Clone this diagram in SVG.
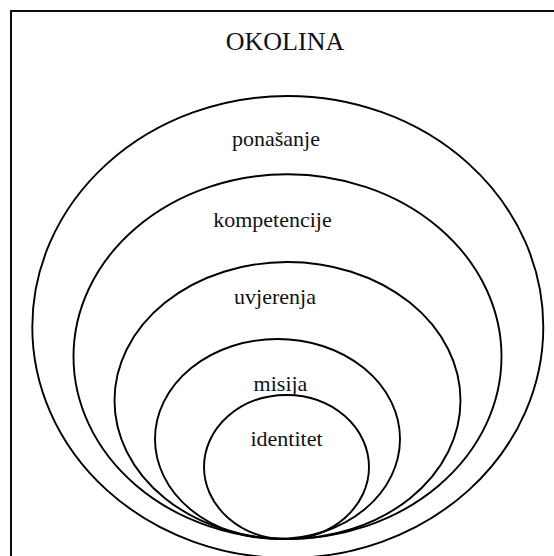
<svg xmlns="http://www.w3.org/2000/svg" width="554" height="556" viewBox="0 0 554 556">
<style>
.sh{fill:none;stroke:#000;stroke-width:1.9}
.t{font-family:"Liberation Serif","Times New Roman",serif;font-size:22px;fill:#111;text-anchor:middle}
</style>
<rect x="0" y="0" width="554" height="556" fill="#fff"/>
<g id="okolina">
<rect class="sh" x="11" y="11" width="620" height="620"/>
<text class="t" x="285" y="49.5" style="font-size:26px">OKOLINA</text>
</g>
<g id="ponasanje">
<ellipse class="sh" cx="287.8" cy="327" rx="255.5" ry="231"/>
<text class="t" x="276" y="146">ponašanje</text>
</g>
<g id="kompetencije">
<ellipse class="sh" cx="287.5" cy="356.6" rx="214" ry="182.3"/>
<text class="t" x="272.5" y="226.5">kompetencije</text>
</g>
<g id="uvjerenja">
<ellipse class="sh" cx="287.5" cy="400.5" rx="173" ry="138.5"/>
<text class="t" x="275" y="304">uvjerenja</text>
</g>
<g id="misija">
<ellipse class="sh" cx="277.5" cy="439" rx="122.5" ry="100"/>
<text class="t" x="280.5" y="391">misija</text>
</g>
<g id="identitet">
<ellipse class="sh" cx="286.5" cy="467" rx="82.5" ry="72"/>
<text class="t" x="286.5" y="445.5">identitet</text>
</g>
<g id="connectors"></g>
</svg>
